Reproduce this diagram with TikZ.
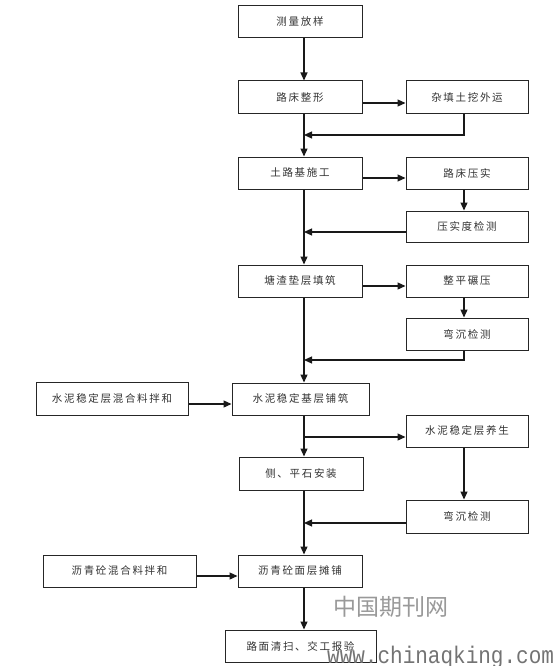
\documentclass[tikz,border=0pt]{standalone}
\usepackage{fontspec}
\newfontfamily\cjk[LetterSpace=16]{Noto Sans CJK SC}
\newfontfamily\cjkwm{Noto Sans CJK SC}
\usetikzlibrary{arrows.meta}
\begin{document}
\begin{tikzpicture}[x=1pt,y=-1pt,
  box/.style={draw=black!85, line width=1pt, fill=white, inner sep=0pt,
    font=\cjk\fontsize{10.5}{12}\selectfont, text=black!80},
  flow/.style={draw=black!90, line width=1.2pt, -{Triangle[length=8pt,width=7pt]}},
  wm/.style={text=black!45, inner sep=0pt}]
\useasboundingbox (0,0) rectangle (557,666);
\fill[white] (0,0) rectangle (557,666);
\coordinate (mx) at (304,0);
\coordinate (rx) at (464,0);
\coordinate (j1) at (304,135);
\coordinate (j2) at (304,360);
\coordinate (j3) at (304,437);
% nodes
\node[box, minimum width=124pt, minimum height=32pt] (n1) at (300,22) {测量放样};
\node[box, minimum width=124pt, minimum height=33pt] (n2) at (300,97.5) {路床整形};
\node[box, minimum width=122pt, minimum height=33pt] (r1) at (467,97.5) {杂填土挖外运};
\node[box, minimum width=124pt, minimum height=32pt] (n3) at (300,173) {土路基施工};
\node[box, minimum width=122pt, minimum height=32pt] (r2) at (467,173) {路床压实};
\node[box, minimum width=122pt, minimum height=31pt] (r3) at (467,226.5) {压实度检测};
\node[box, minimum width=124pt, minimum height=32pt] (n4) at (300,281) {塘渣垫层填筑};
\node[box, minimum width=122pt, minimum height=32pt] (r4) at (467,281) {整平碾压};
\node[box, minimum width=122pt, minimum height=32pt] (r5) at (467,334) {弯沉检测};
\node[box, minimum width=152pt, minimum height=33pt] (l1) at (112,398.5) {水泥稳定层混合料拌和};
\node[box, minimum width=137pt, minimum height=32pt] (n5) at (300.5,399) {水泥稳定基层铺筑};
\node[box, minimum width=122pt, minimum height=32pt] (r6) at (467,431) {水泥稳定层养生};
\node[box, minimum width=124pt, minimum height=33pt] (n6) at (301,473.5) {侧、平石安装};
\node[box, minimum width=122pt, minimum height=33pt] (r7) at (467,516.5) {弯沉检测};
\node[box, minimum width=153pt, minimum height=32pt] (l2) at (119.5,571) {沥青砼混合料拌和};
\node[box, minimum width=124pt, minimum height=32pt] (n7) at (300,571) {沥青砼面层摊铺};
\node[box, minimum width=151pt, minimum height=32pt] (n8) at (300.5,646) {路面清扫、交工报验};
% main column
\draw[flow] (n1.south -| mx) -- (n2.north -| mx);
\draw[flow] (n2.south -| mx) -- (n3.north -| mx);
\draw[flow] (n3.south -| mx) -- (n4.north -| mx);
\draw[flow] (n4.south -| mx) -- (n5.north -| mx);
\draw[flow] (n5.south -| mx) -- (n6.north -| mx);
\draw[flow] (n6.south -| mx) -- (n7.north -| mx);
\draw[flow] (n7.south -| mx) -- (n8.north -| mx);
% side branches
\draw[flow] ([yshift=-5.5pt]n2.east) -- ([yshift=-5.5pt]n2.east -| r1.west);
\draw[flow] (r1.south -| rx) |- (j1);
\draw[flow] ([yshift=-5pt]n3.east) -- ([yshift=-5pt]n3.east -| r2.west);
\draw[flow] (r2.south -| rx) -- (r3.north -| rx);
\draw[flow] ([yshift=-5.5pt]r3.west) -- ([yshift=-5.5pt]r3.west -| mx);
\draw[flow] ([yshift=-5pt]n4.east) -- ([yshift=-5pt]n4.east -| r4.west);
\draw[flow] (r4.south -| rx) -- (r5.north -| rx);
\draw[flow] (r5.south -| rx) |- (j2);
\draw[flow] ([yshift=-5.5pt]l1.east) -- ([yshift=-5.5pt]l1.east -| n5.west);
\draw[flow] (j3) -- (j3 -| r6.west);
\draw[flow] (r6.south -| rx) -- (r7.north -| rx);
\draw[flow] ([yshift=-6.5pt]r7.west) -- ([yshift=-6.5pt]r7.west -| mx);
\draw[flow] ([yshift=-5pt]l2.east) -- ([yshift=-5pt]l2.east -| n7.west);
% watermark
\node[wm, text=black!40, font=\cjkwm\fontsize{23}{25}\selectfont] (wm1) at (391,607) {中国期刊网};
\node[wm, text=black!55, font=\fontspec{Liberation Mono}\fontsize{24}{25}\selectfont, xscale=0.875, anchor=base west] (wm2) at (327,663) {www.chinaqking.com};
\end{tikzpicture}
\end{document}
